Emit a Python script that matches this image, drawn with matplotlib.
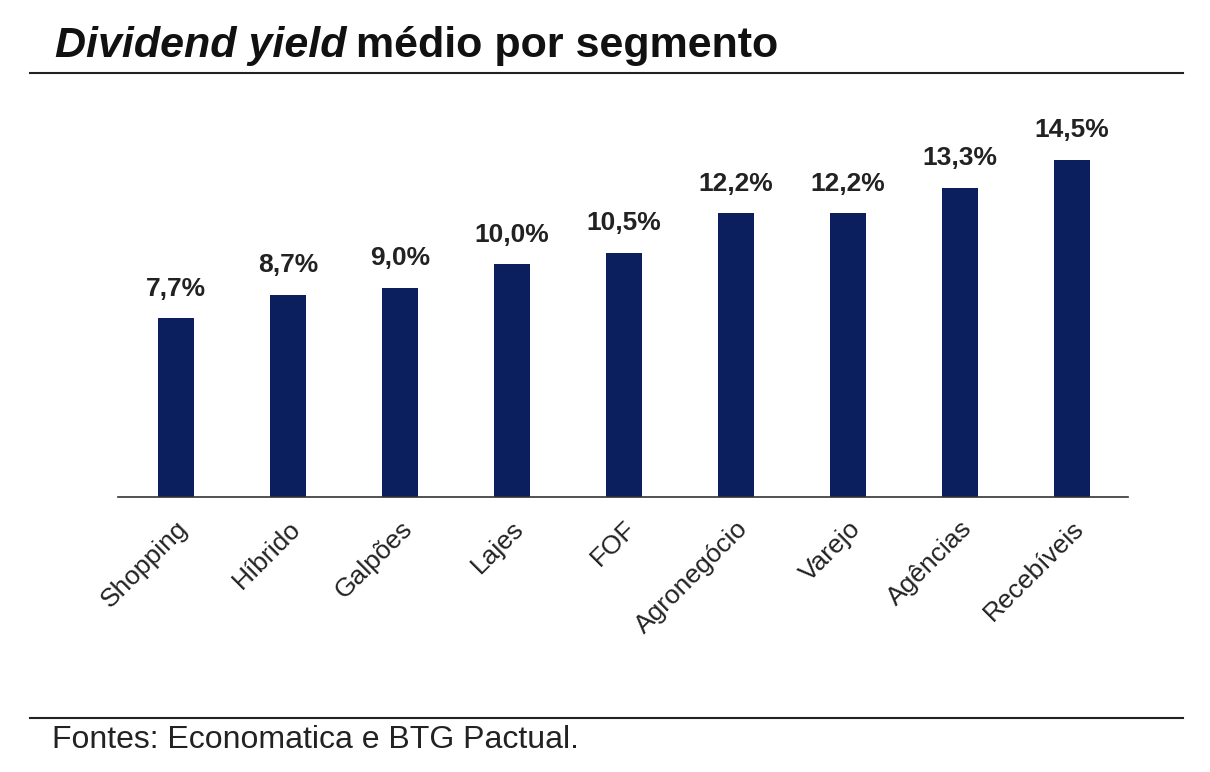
import matplotlib.pyplot as plt
from matplotlib.lines import Line2D

plt.rcParams['font.family'] = ['Liberation Sans', 'DejaVu Sans']

segmentos = ["Shopping", "Híbrido", "Galpões", "Lajes", "FOF",
             "Agronegócio", "Varejo", "Agências", "Recebíveis"]
dy = [7.7, 8.7, 9.0, 10.0, 10.5, 12.2, 12.2, 13.3, 14.5]
rotulos = ["7,7%", "8,7%", "9,0%", "10,0%", "10,5%", "12,2%", "12,2%", "13,3%", "14,5%"]

W, H = 1210, 772
fig = plt.figure(figsize=(W / 100, H / 100), dpi=100)

# axes placed in pixel coordinates of the reference
left, right, top, bottom = 118, 1128, 100, 497
ax = fig.add_axes([left / W, 1 - bottom / H, (right - left) / W, (bottom - top) / H])
x = range(len(dy))
ax.bar(x, dy, width=0.33, color="#0b1f5e")
for i, (v, t) in enumerate(zip(dy, rotulos)):
    ax.text(i, v + 0.75, t, ha="center", va="bottom", fontsize=19, fontweight="bold", color="#222222")
ax.set_xlim(-0.518, 8.5)
ax.set_ylim(0, (bottom - top) / 23.25)
ax.set_yticks([])
ax.set_xticks(list(x))
ax.set_xticklabels(segmentos, rotation=45, ha="right", rotation_mode="anchor", fontsize=19, color="#222222")
ax.tick_params(axis="x", length=0, pad=14)
for s in ["top", "right", "left"]:
    ax.spines[s].set_visible(False)
ax.spines["bottom"].set_color("#333333")
ax.spines["bottom"].set_linewidth(1.2)

t1 = fig.text(55 / W, 1 - 46 / H, "Dividend yield", fontsize=31, fontweight="bold", style="italic",
              va="center", color="#111111")
fig.canvas.draw()
bb = t1.get_window_extent()
fig.text((bb.x1 + 9) / W, 1 - 46 / H, "médio por segmento", fontsize=31, fontweight="bold",
         va="center", color="#111111")
fig.add_artist(Line2D([30 / W, 1183 / W], [1 - 73 / H] * 2, color="#222222", lw=1.5))
fig.add_artist(Line2D([30 / W, 1183 / W], [1 - 718 / H] * 2, color="#222222", lw=1.5))
fig.text(52 / W, 1 - 740 / H, "Fontes: Economatica e BTG Pactual.", fontsize=23, va="center", color="#222222")

fig.savefig("out.png", dpi=100, facecolor="white")
